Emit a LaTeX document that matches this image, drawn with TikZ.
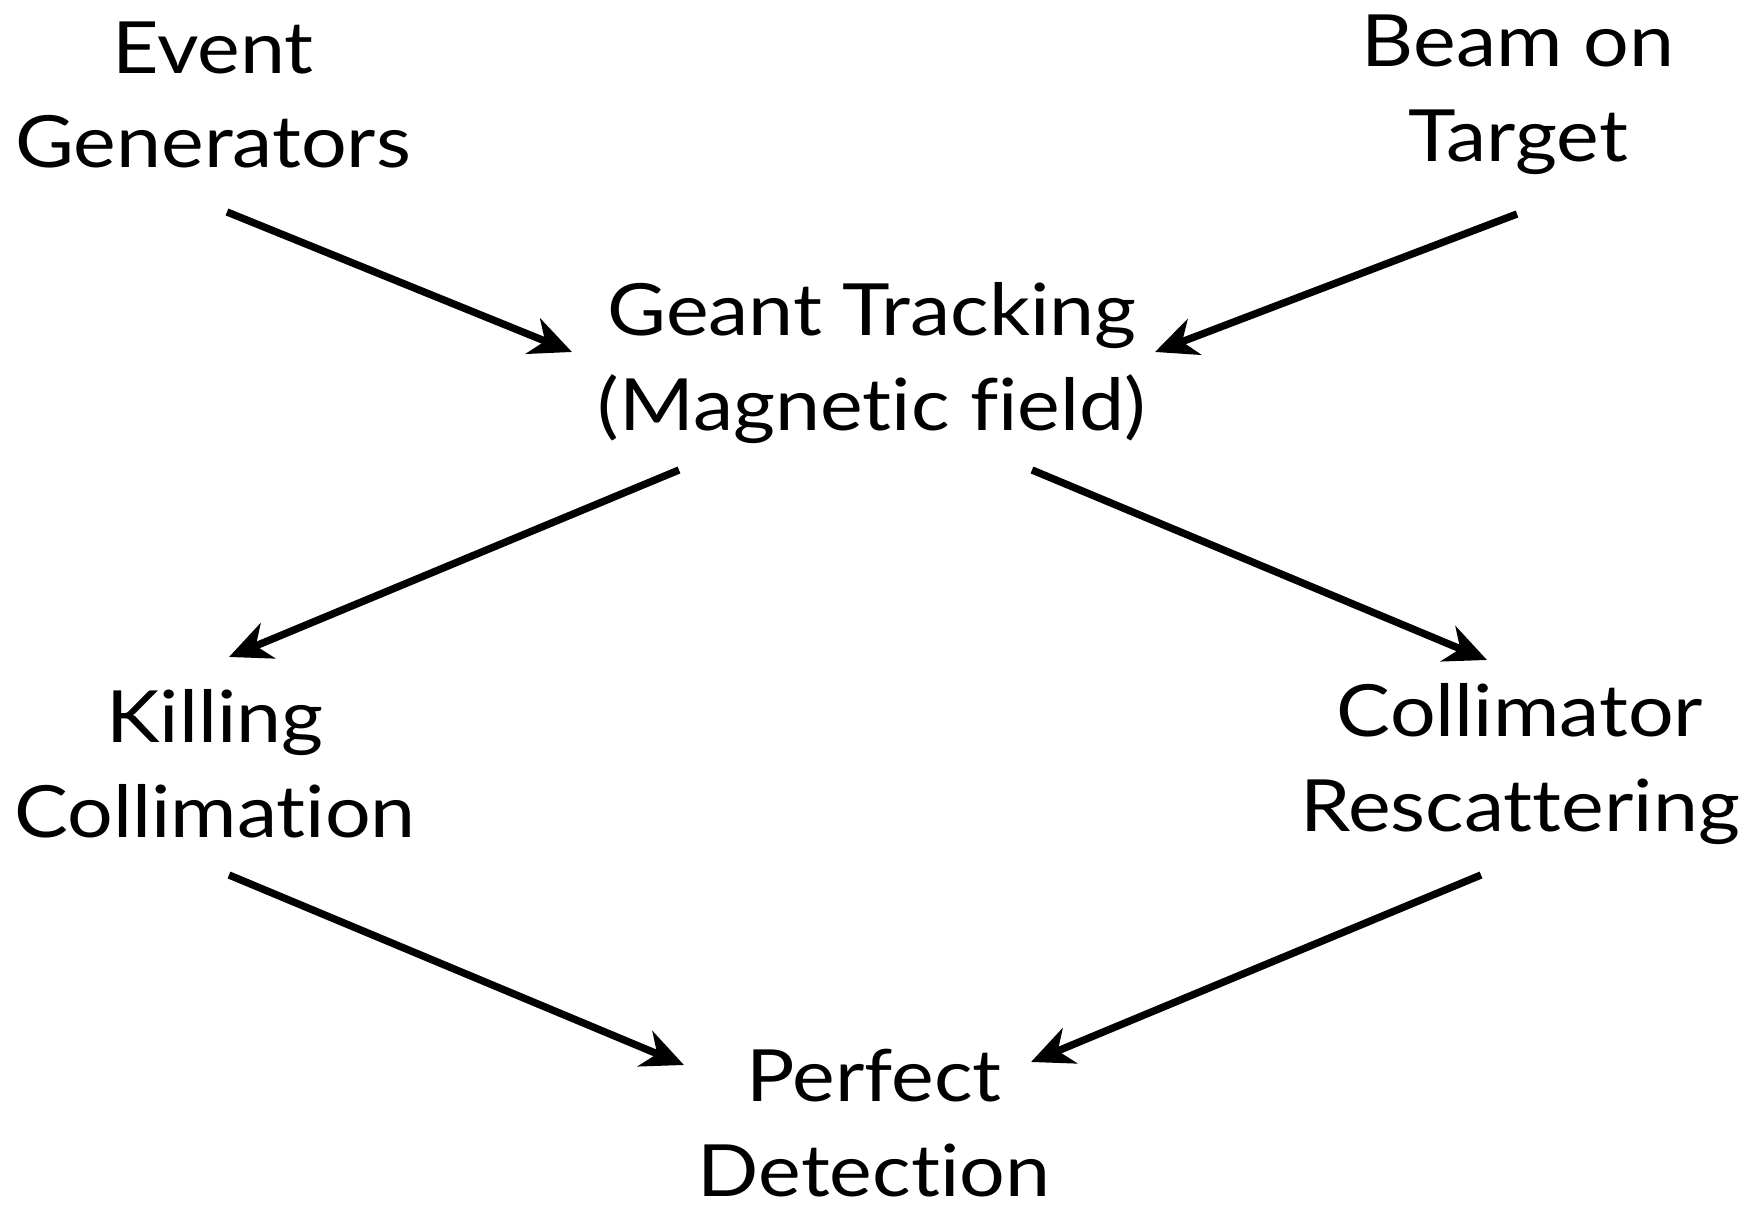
\documentclass[tikz,border=0pt]{standalone}
\usepackage{fontspec}
\setmainfont{Lato}[Ligatures=NoCommon, FakeStretch=1.12]
\usetikzlibrary{arrows.meta}

\begin{document}
\begin{tikzpicture}[
  stage/.style={align=center, inner sep=0pt, font=\fontsize{20.5}{27}\selectfont},
  arr/.style={-{Stealth[length=4.2mm, width=3.8mm, inset=1.3mm]}, line width=2.1pt}
]
\useasboundingbox (0,0) rectangle (17.53,-12.05);
\node[stage] (ev)    at (2.13,-0.95)  {Event\\Generators};
\node[stage] (beam)  at (15.18,-0.95) {Beam on\\Target};
\node[stage] (geant) at (8.72,-3.63)  {Geant Tracking\\(Magnetic field)};
\node[stage] (kill)  at (2.15,-7.64)  {Killing\\Collimation};
\node[stage] (coll)  at (15.20,-7.64) {Collimator\\Rescattering};
\node[stage] (det)   at (8.74,-11.23) {Perfect\\Detection};

\foreach \a/\sa/\b/\sb in {ev/{0.14,-1.17}/geant/{-3.00,0.11},
    beam/{-0.01,-1.19}/geant/{2.83,0.11},
    geant/{-1.93,-1.07}/kill/{0.14,1.07},
    geant/{1.60,-1.07}/coll/{-0.33,1.04},
    kill/{0.14,-1.11}/det/{-1.90,0.58},
    coll/{-0.39,-1.11}/det/{1.57,0.61}}
  \draw[arr] ([shift={(\sa)}]\a.center) -- ([shift={(\sb)}]\b.center);
\end{tikzpicture}
\end{document}
